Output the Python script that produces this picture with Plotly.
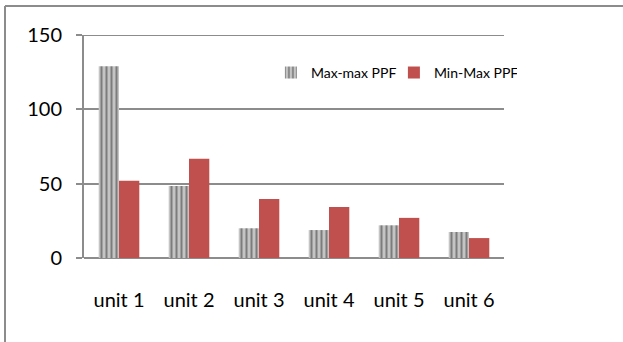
import plotly.graph_objects as go

categories = ["unit 1", "unit 2", "unit 3", "unit 4", "unit 5", "unit 6"]
max_max = [129, 48.5, 20, 18.8, 22, 17.5]
min_max = [52, 66.7, 39.7, 34.3, 27, 13.4]
y_ticks = [0, 50, 100, 150]

W, H = 623, 342
L, R, T, B = 84, 119, 35, 84
pw, ph = W - L - R, H - T - B
GRAY = "#8c8c8c"

fig = go.Figure()
fig.add_trace(go.Bar(
    x=categories, y=max_max, name="Max-max PPF",
    marker=dict(color="#c8c8c8", line=dict(width=0),
                pattern=dict(shape="|", fgcolor="#333333", bgcolor="#c4c4c4",
                             size=5, solidity=0.4)),
))
fig.add_trace(go.Bar(
    x=categories, y=min_max, name="Min-Max PPF",
    marker=dict(color="#c0504d", line=dict(width=0)),
))

def px2x(p):
    return (p - L) / pw

def px2y(p):
    return (H - B - p) / ph

# outer chart border (top and left visible)
fig.add_shape(type="line", xref="paper", yref="paper",
              x0=px2x(5), x1=px2x(W + 5), y0=px2y(6), y1=px2y(6),
              line=dict(color=GRAY, width=2))
fig.add_shape(type="line", xref="paper", yref="paper",
              x0=px2x(5), x1=px2x(5), y0=px2y(6), y1=px2y(H + 5),
              line=dict(color=GRAY, width=2))
# top gridline (at range edge) with its tick
fig.add_shape(type="line", xref="paper", yref="y",
              x0=px2x(78), x1=1, y0=y_ticks[-1], y1=y_ticks[-1],
              line=dict(color=GRAY, width=2), layer="below")

fig.update_layout(
    width=W, height=H,
    margin=dict(l=L, r=R, t=T, b=B, autoexpand=False),
    paper_bgcolor="white", plot_bgcolor="white",
    barmode="group", bargap=0.42, bargroupgap=0,
    font=dict(family="Lato, 'Open Sans', sans-serif", color="#000000"),
    showlegend=True,
    legend=dict(orientation="h", x=0.445, y=0.83, xanchor="left", yanchor="middle",
                font=dict(size=14), bgcolor="rgba(0,0,0,0)",
                itemwidth=30, entrywidth=78, tracegroupgap=0),
)
fig.update_xaxes(
    showline=False, showgrid=False, ticks="", automargin=False,
    tickfont=dict(size=20), ticklabelstandoff=28,
)
fig.update_yaxes(
    range=[0, 150], tickvals=y_ticks, ticktext=[str(v) for v in y_ticks],
    automargin=False,
    showgrid=True, gridcolor=GRAY, gridwidth=2,
    showline=True, linecolor=GRAY, linewidth=2,
    ticks="outside", ticklen=6, tickcolor=GRAY, tickwidth=2,
    tickfont=dict(size=20), ticklabelstandoff=10,
    zeroline=True, zerolinecolor=GRAY, zerolinewidth=2,
)

fig.write_html("out.html", config={"displayModeBar": False},
               post_script="document.body.style.margin='0';document.body.style.overflow='hidden';")
